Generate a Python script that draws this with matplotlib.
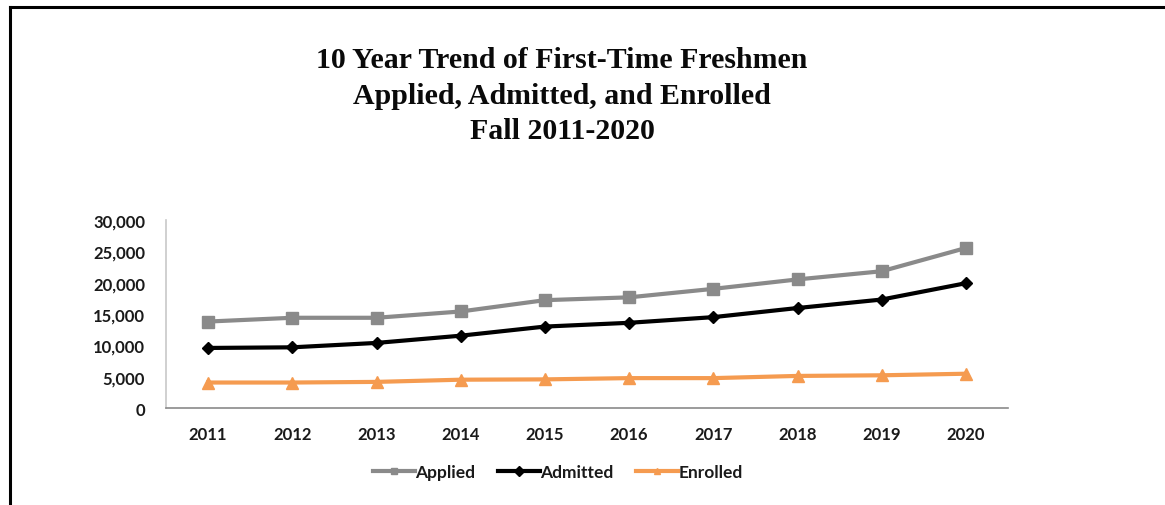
import matplotlib
matplotlib.use("Agg")
import matplotlib.pyplot as plt
from matplotlib.lines import Line2D
from matplotlib.ticker import FuncFormatter

years = ["2011", "2012", "2013", "2014", "2015", "2016", "2017", "2018", "2019", "2020"]
applied = [13800, 14400, 14400, 15400, 17200, 17650, 19000, 20500, 21800, 25500]
admitted = [9600, 9700, 10400, 11550, 13000, 13600, 14500, 15950, 17300, 19900]
enrolled = [4100, 4100, 4200, 4550, 4600, 4800, 4800, 5150, 5250, 5500]
yticks = [0, 5000, 10000, 15000, 20000, 25000, 30000]
series_names = ["Applied", "Admitted", "Enrolled"]

title_lines = ["10 Year Trend of First-Time Freshmen",
               "Applied, Admitted, and Enrolled",
               "Fall 2011-2020"]

GREY = "#8a8a8a"
BLACK = "#000000"
ORANGE = "#f59b50"
TICK_FONT = "Lato"

fig = plt.figure(figsize=(11.65, 5.06), dpi=100)
fig.patch.set_facecolor("white")

# page frame: top and left rule
fig.add_artist(Line2D([10 / 1165, 1.0], [1 - 8 / 506] * 2, color="black", lw=2.2,
                      transform=fig.transFigure))
fig.add_artist(Line2D([10 / 1165] * 2, [0.0, 1 - 8 / 506], color="black", lw=2.2,
                      transform=fig.transFigure))

# title block
for txt, yb in zip(title_lines, [68, 104, 139]):
    fig.text(562 / 1165, 1 - yb / 506, txt, ha="center", va="baseline",
             fontsize=21.5, fontweight="bold", family="Liberation Serif", color="#0a0a0a")

ax = fig.add_axes([166 / 1165, 1 - 409.3 / 506, (1008 - 166) / 1165, (409.3 - 220.7) / 506])
x = list(range(len(years)))
styles = [(applied, GREY, "s", 8), (admitted, BLACK, "D", 6), (enrolled, ORANGE, "^", 8)]
for (vals, col, mk, ms), name in zip(styles, series_names):
    ax.plot(x, vals, color=col, lw=3, marker=mk, ms=ms, label=name,
            zorder=4 if col == BLACK else 3)

ax.set_xlim(-0.5, len(years) - 0.5)
ax.set_ylim(0, 30000)
ax.set_xticks(x)
ax.set_xticklabels(years)
ax.set_yticks(yticks)
ax.yaxis.set_major_formatter(FuncFormatter(lambda v, p: f"{int(v):,}"))
ax.tick_params(axis="both", length=0, labelsize=12, labelcolor="#1a1a1a")
ax.tick_params(axis="y", pad=15)
ax.tick_params(axis="x", pad=13)
for lab in ax.get_xticklabels() + ax.get_yticklabels():
    lab.set_fontfamily(TICK_FONT)
    lab.set_fontweight("bold")

for s in ["top", "right"]:
    ax.spines[s].set_visible(False)
ax.spines["left"].set_color("#c8c8c8")
ax.spines["left"].set_linewidth(1.2)
ax.spines["bottom"].set_color("#8a8a8a")
ax.spines["bottom"].set_linewidth(1.2)

# legend keys use smaller markers than the plotted series
proxies = [Line2D([], [], color=col, lw=3, marker=mk, ms=5) for _, col, mk, _ in styles]
leg = fig.legend(proxies, series_names, loc="center", bbox_to_anchor=(558 / 1165, 1 - 473 / 506),
                 ncol=3, frameon=False, handlelength=2.4, handletextpad=0.05,
                 columnspacing=1.3, prop={"family": TICK_FONT, "weight": "bold", "size": 12.5})
for t in leg.get_texts():
    t.set_color("#1a1a1a")

fig.savefig("out.png", dpi=100, facecolor="white")
